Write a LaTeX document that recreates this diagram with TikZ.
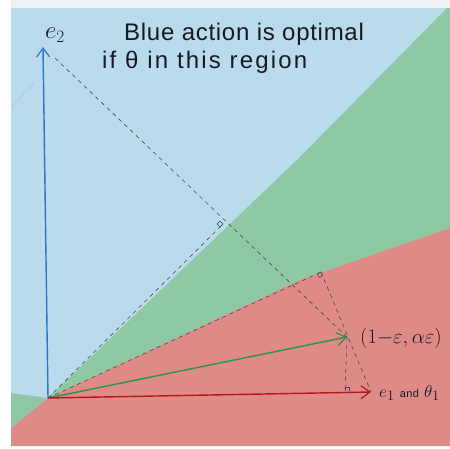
\documentclass[tikz,border=0pt]{standalone}
\usepackage{fontspec}
\newfontfamily\handfont[LetterSpace=3]{Liberation Sans}
\newfontfamily\handfontwide[LetterSpace=9]{Liberation Sans}
\usetikzlibrary{arrows.meta}
\definecolor{bluereg}{RGB}{186,219,236}
\definecolor{greenreg}{RGB}{143,200,165}
\definecolor{redreg}{RGB}{222,138,134}
\definecolor{topstrip}{RGB}{238,241,244}
\definecolor{bluevec}{RGB}{40,120,200}
\definecolor{greenvec}{RGB}{40,150,70}
\definecolor{redvec}{RGB}{180,25,25}
\definecolor{dashgray}{RGB}{70,72,80}
\definecolor{ink}{RGB}{25,25,35}
\begin{document}
\begin{tikzpicture}[x=1pt,y=-1pt,
  dashline/.style={draw=dashgray, line width=0.6pt, dash pattern=on 4pt off 4pt},
  vec/.style={line width=1.4pt, -{Straight Barb[length=9pt,width=13pt,line width=1.2pt]}},
  lbl/.style={inner sep=0pt, text=ink},
  ramark/.style={draw=dashgray, line width=0.5pt}
]
\useasboundingbox (0,0) rectangle (450,448);
\fill[white] (0,0) rectangle (450,448);
\fill[topstrip] (11,0) rectangle (450,8);
% regions
\coordinate (O) at (48,398);
\fill[bluereg] (11,8) rectangle (450,446);
\fill[greenreg] (O) -- (300,157) -- (447,8) -- (450,8) -- (450,228) -- (300,280) -- (200,327) -- cycle;
\fill[greenreg] (O) -- (11,393) -- (11,428) -- cycle;
\fill[redreg] (O) -- (200,327) -- (300,280) -- (450,228) -- (450,446) -- (11,446) -- (11,428) -- cycle;
% key points
\coordinate (E2) at (43,47);
\coordinate (E1) at (371,392);
\coordinate (G) at (347,337);
\coordinate (F1) at (223,224);
\coordinate (F2) at (321,272);
\coordinate (F3) at (345,391);
\coordinate (E2d) at (55,58);
\coordinate (D1) at (12,107);
\coordinate (D2) at (34,82);
% dashed construction lines
\draw[dashline] (O) -- (F1);
\draw[dashline] (E2d) -- (G);
\draw[dashline] (O) -- (F2);
\draw[dashline] (F2) -- (E1);
\draw[dashline] (G) -- (F3);
\draw[gray, line width=0.5pt, dotted] (D1) -- (D2);
% right angle marks
\draw[ramark] (F1) -- ++(-3,3) -- ++(-3,-3) -- ++(3,-3) -- cycle;
\draw[ramark] (F2) -- ++(-3.6,1.7) -- ++(1.5,3.7) -- ++(3.6,-1.7) -- cycle;
\draw[ramark] (F3) -- ++(0,-4) -- ++(4,0) -- ++(0,4);
% vectors
\draw[vec, draw=bluevec] (O) -- (E2);
\draw[vec, draw=greenvec] (O) -- (G);
\draw[vec, draw=redvec] (O) -- (E1);
% labels
\node[lbl, font=\fontsize{26}{26}\selectfont] (e2l) at (55,35) {$e_2$};
\node[lbl, anchor=west, font=\handfont\fontsize{24}{24}\selectfont] (t1) at (124,34) {Blue action is optimal};
\node[lbl, anchor=west, font=\handfontwide\fontsize{24}{24}\selectfont] (t2) at (102,62) {if θ in this region};
\node[lbl, anchor=west, font=\fontsize{19.5}{19.5}\selectfont] (gl) at (360,338) {$(1{-}\varepsilon,\alpha\varepsilon)$};
\node[lbl, anchor=west, font=\fontsize{19}{19}\selectfont] (e1l) at (379,393) {$e_1$\;{\handfont\fontsize{11}{11}\selectfont and}\;$\theta_1$};
\end{tikzpicture}
\end{document}
